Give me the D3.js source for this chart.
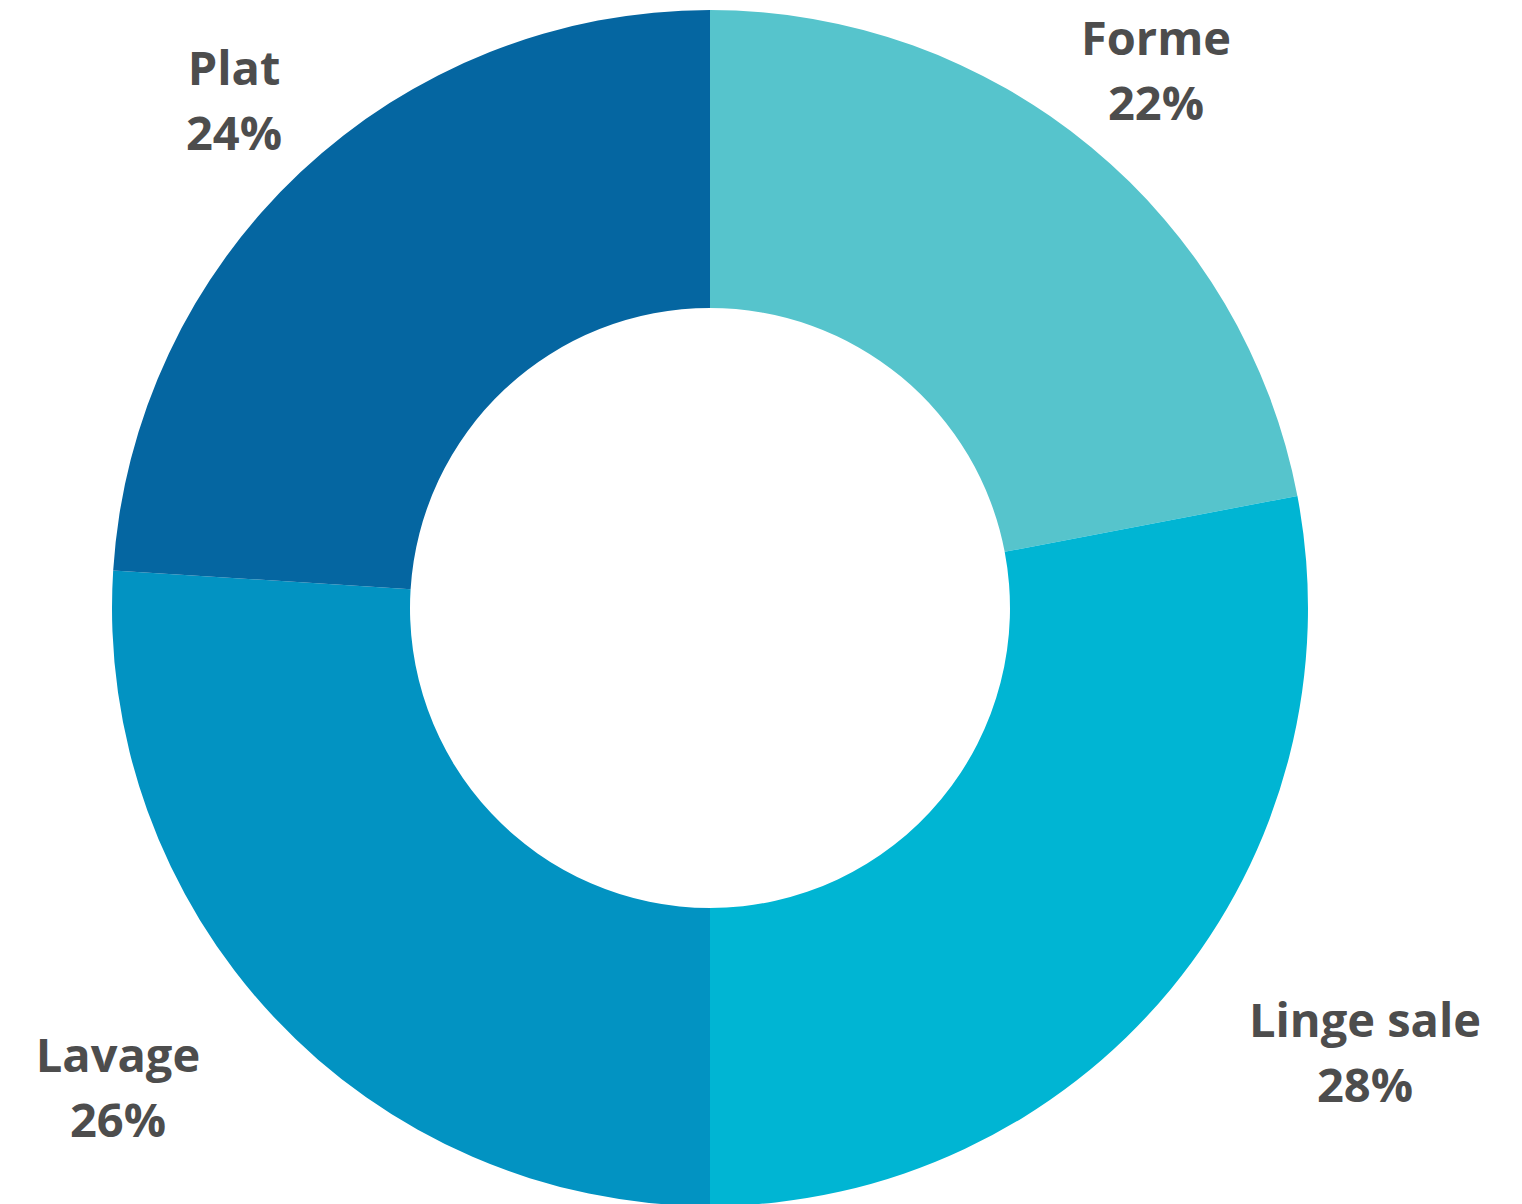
<!DOCTYPE html>
<html>
<head>
<meta charset="utf-8">
<script src="https://cdn.jsdelivr.net/npm/d3@7"></script>
<style>
  html, body { margin: 0; padding: 0; background: #fff; }
  svg { display: block; }
  .slice-label { font-family: "Open Sans", sans-serif; font-weight: 700; font-size: 47px; fill: #4d4d4d; }
</style>
</head>
<body>
<svg id="donut-chart"></svg>
<script>
// data
const categories = ["Forme", "Linge sale", "Lavage", "Plat"];
const shares = [22, 28, 26, 24];
const colors = ["#56c4cc", "#00b5d3", "#0293c2", "#0566a1"];
// label anchor points (x, baseline of first line)
const labelPos = [[1156, 55], [1365, 1037], [118, 1072], [234, 85]];

const width = 1522, height = 1204;
const cx = 710, cy = 608;
const outerR = 598, innerR = 300;

const svg = d3.select("#donut-chart")
    .attr("width", width)
    .attr("height", height);

const g = svg.append("g")
    .attr("transform", `translate(${cx},${cy})`);

const pie = d3.pie().sort(null).value(d => d.value);
const arc = d3.arc().innerRadius(innerR).outerRadius(outerR);

const data = categories.map((c, i) => ({ name: c, value: shares[i] }));

g.selectAll("path")
    .data(pie(data))
    .join("path")
    .attr("d", arc)
    .attr("fill", (d, i) => colors[i]);

// labels outside the ring
const labels = svg.append("g")
    .selectAll("text")
    .data(data)
    .join("text")
    .attr("class", "slice-label")
    .attr("text-anchor", "middle")
    .attr("x", (d, i) => labelPos[i][0])
    .attr("y", (d, i) => labelPos[i][1]);

labels.append("tspan")
    .text(d => d.name);

labels.append("tspan")
    .attr("x", (d, i) => labelPos[i][0])
    .attr("dy", 65)
    .text(d => `${d.value}%`);
</script>
</body>
</html>
